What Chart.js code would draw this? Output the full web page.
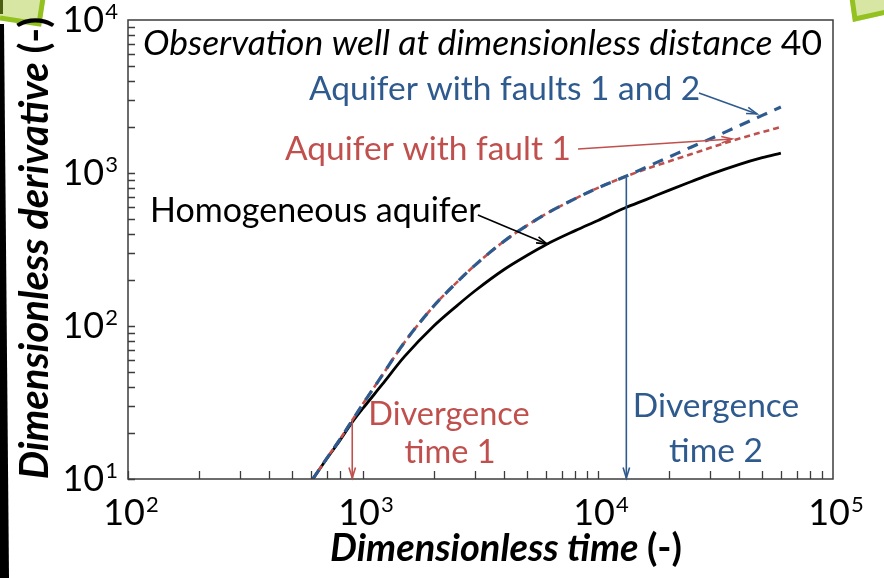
<!DOCTYPE html>
<html>
<head>
<meta charset="utf-8">
<script src="https://cdn.jsdelivr.net/npm/chart.js@4.4.1/dist/chart.umd.min.js"></script>
<style>
    html, body { margin: 0; padding: 0; background: #fff; }
    #wrap { width: 884px; height: 578px; }
</style>
</head>
<body>
<div id="wrap"><canvas id="myChart" width="884" height="578"></canvas></div>
<script>
// dimensionless time (x) shared by the three curves
let times = [612, 700, 800, 900, 1000, 1200, 1500, 2000, 2500, 3000, 4000, 5000, 6000, 8000, 10000, 13000, 16000, 20000, 25000, 30000, 40000, 50000, 60000];
// dimensionless derivative
let homogeneous = [10, 13.5, 18, 23.5, 29, 41, 63, 100, 135, 170, 235, 290, 340, 420, 490, 590, 670, 770, 880, 980, 1140, 1260, 1350];
let fault1 = [10, 13.6, 18.3, 24.2, 31, 47, 78, 135, 192, 250, 360, 455, 540, 680, 800, 945, 1060, 1190, 1330, 1460, 1680, 1850, 2000];
let faults12 = [10, 13.6, 18.3, 24.2, 31, 47, 78, 135, 192, 250, 360, 455, 540, 680, 800, 945, 1090, 1270, 1480, 1670, 2040, 2380, 2700];

let xTicks = [100, 1000, 10000, 100000];
let yTicks = [10, 100, 1000, 10000];

// divergence arrows: [time, derivative where arrow starts]
let divergence1 = [900, 24];
let divergence2 = [13200, 930];

// label arrows in data coords: [t, s] -> [t, s]
let arrowFaults12 = [[26900, 3337], [47500, 2432]];
let arrowFault1 = [[8220, 1436], [37150, 1667]];
let arrowHomog = [[3083, 531], [6067, 344]];

let fontName = 'Lato';
let axisColor = '#3c3c3c';
let blueColor = '#2F5A8E';
let redColor = '#C0504D';
let noteFont = '33.5px ' + fontName;

function toPoints(xs, ys) {
    return xs.map((x, i) => ({ x: x, y: ys[i] }));
}

function powerLabel(c, exp, x, y, align) {
    c.font = '36px ' + fontName;
    let w1 = c.measureText('10').width;
    c.font = '22px ' + fontName;
    let w2 = c.measureText(exp).width;
    let left = align === 'right' ? x - w1 - w2 - 1 : x - (w1 + w2 + 1) / 2;
    c.fillStyle = '#000';
    c.textAlign = 'left';
    c.textBaseline = 'alphabetic';
    c.font = '36px ' + fontName;
    c.fillText('10', left, y);
    c.font = '22px ' + fontName;
    c.fillText(exp, left + w1 + 1, y - 13);
}

// draws text made of several pieces with different fonts
function drawRuns(c, runs, x, y, color, center) {
    let total = 0;
    runs.forEach(r => { c.font = r[1]; total += c.measureText(r[0]).width; });
    let pos = center ? x - total / 2 : x;
    c.fillStyle = color;
    c.textAlign = 'left';
    c.textBaseline = 'alphabetic';
    runs.forEach(r => {
        c.font = r[1];
        c.fillText(r[0], pos, y);
        pos += c.measureText(r[0]).width;
    });
}

function arrow(c, x1, y1, x2, y2, color, width) {
    c.strokeStyle = color;
    c.lineWidth = width;
    c.beginPath();
    c.moveTo(x1, y1);
    c.lineTo(x2, y2);
    c.stroke();
    let a = Math.atan2(y2 - y1, x2 - x1);
    let len = 11, spread = 0.3;
    c.beginPath();
    c.moveTo(x2 - len * Math.cos(a - spread), y2 - len * Math.sin(a - spread));
    c.lineTo(x2, y2);
    c.lineTo(x2 - len * Math.cos(a + spread), y2 - len * Math.sin(a + spread));
    c.stroke();
}

// slide background bits (black bar, green corners)
const slideDecor = {
    id: 'slideDecor',
    beforeDraw(chart) {
        let c = chart.ctx;
        c.save();
        c.fillStyle = '#fff';
        c.fillRect(0, 0, chart.width, chart.height);
        c.fillStyle = '#000';
        c.beginPath();
        c.moveTo(0, 24); c.lineTo(4, 24); c.lineTo(9, 578); c.lineTo(0, 578);
        c.closePath();
        c.fill();
        // top left corner
        c.fillStyle = '#D7E6A3';
        c.beginPath();
        c.moveTo(0, 0); c.lineTo(45, 0); c.lineTo(41, 26); c.lineTo(0, 20);
        c.closePath();
        c.fill();
        c.strokeStyle = '#93C11F';
        c.lineWidth = 5;
        c.beginPath();
        c.moveTo(43, -2); c.lineTo(39, 24); c.lineTo(0, 18);
        c.stroke();
        c.fillStyle = '#4B5E12';
        c.fillRect(0, 0, 3, 14);
        // top right corner
        c.fillStyle = '#D7E6A3';
        c.beginPath();
        c.moveTo(850, 0); c.lineTo(853, 22); c.lineTo(884, 15); c.lineTo(884, 0);
        c.closePath();
        c.fill();
        c.beginPath();
        c.moveTo(852, -2); c.lineTo(855, 19); c.lineTo(886, 12);
        c.stroke();
        c.restore();
    }
};

const axesAndNotes = {
    id: 'axesAndNotes',
    afterDatasetsDraw(chart) {
        let c = chart.ctx;
        let a = chart.chartArea;
        let xs = chart.scales.x;
        let ys = chart.scales.y;
        c.save();
        // frame
        c.strokeStyle = axisColor;
        c.lineWidth = 1.5;
        c.strokeRect(a.left, a.top, a.right - a.left, a.bottom - a.top);
        // inward ticks
        c.lineWidth = 1.3;
        c.beginPath();
        for (let d = 100; d < 100000; d *= 10) {
            for (let k = 1; k <= 9; k++) {
                let px = Math.round(xs.getPixelForValue(k * d)) + 0.5;
                c.moveTo(px, a.bottom);
                c.lineTo(px, a.bottom - 8);
            }
        }
        for (let d = 10; d < 10000; d *= 10) {
            for (let k = 1; k <= 9; k++) {
                let py = Math.round(ys.getPixelForValue(k * d)) + 0.5;
                c.moveTo(a.left, py);
                c.lineTo(a.left + 7, py);
            }
        }
        c.stroke();

        // tick labels
        xTicks.forEach(v => {
            powerLabel(c, String(Math.round(Math.log10(v))), xs.getPixelForValue(v) + 3, a.bottom + 46, 'center');
        });
        yTicks.forEach(v => {
            powerLabel(c, String(Math.round(Math.log10(v))), a.left - 10, ys.getPixelForValue(v) + 12, 'right');
        });

        // axis titles
        drawRuns(c, [['Dimensionless time ', 'italic bold 38px ' + fontName], ['(-)', 'bold 38px ' + fontName]],
            506, 561, '#000', true);
        c.save();
        c.translate(48, 248);
        c.rotate(-Math.PI / 2);
        drawRuns(c, [['Dimensionless derivative ', 'italic bold 40px ' + fontName], ['(-)', 'bold 40px ' + fontName]],
            0, 0, '#000', true);
        c.restore();

        // notes
        drawRuns(c, [['Observation well at dimensionless distance ', 'italic 35.5px ' + fontName], ['40', '35.5px ' + fontName]],
            143, 55, '#000', false);
        drawRuns(c, [['Aquifer with faults 1 and 2', noteFont]], 309, 100, blueColor, false);
        drawRuns(c, [['Aquifer with fault 1', noteFont]], 285, 160, redColor, false);
        drawRuns(c, [['Homogeneous aquifer', '34px ' + fontName]], 150, 222, '#000', false);
        drawRuns(c, [['Divergence', '32.5px ' + fontName]], 449, 425, redColor, true);
        drawRuns(c, [['time 1', '32.5px ' + fontName]], 450, 463, redColor, true);
        drawRuns(c, [['Divergence', '33.5px ' + fontName]], 716, 417, blueColor, true);
        drawRuns(c, [['time 2', '33.5px ' + fontName]], 716, 462, blueColor, true);

        // arrows
        let px = p => [xs.getPixelForValue(p[0]), ys.getPixelForValue(p[1])];
        let f12a = px(arrowFaults12[0]), f12b = px(arrowFaults12[1]);
        arrow(c, f12a[0], f12a[1], f12b[0], f12b[1], blueColor, 1.6);
        let f1a = px(arrowFault1[0]), f1b = px(arrowFault1[1]);
        arrow(c, f1a[0], f1a[1], f1b[0], f1b[1], redColor, 1.6);
        let ha = px(arrowHomog[0]), hb = px(arrowHomog[1]);
        arrow(c, ha[0], ha[1], hb[0], hb[1], '#000', 1.6);
        let d1 = px(divergence1);
        arrow(c, d1[0], d1[1], d1[0], a.bottom - 1, redColor, 1.6);
        let d2 = px(divergence2);
        arrow(c, d2[0], d2[1], d2[0], a.bottom - 1, blueColor, 1.6);
        c.restore();
    }
};

function buildChart() {
    let ctx = document.getElementById('myChart').getContext('2d');
    let myChart = new Chart(ctx, {
        type: 'scatter',
        data: {
            datasets: [{
                label: 'Aquifer with faults 1 and 2',
                data: toPoints(times, faults12),
                showLine: true,
                borderColor: blueColor,
                borderWidth: 3.2,
                borderDash: [11, 8],
                pointRadius: 0,
                cubicInterpolationMode: 'monotone',
                order: 0
            }, {
                label: 'Aquifer with fault 1',
                data: toPoints(times, fault1),
                showLine: true,
                borderColor: redColor,
                borderWidth: 2.6,
                borderDash: [6, 4],
                pointRadius: 0,
                cubicInterpolationMode: 'monotone',
                order: 1
            }, {
                label: 'Homogeneous aquifer',
                data: toPoints(times, homogeneous),
                showLine: true,
                borderColor: '#000',
                borderWidth: 2.8,
                pointRadius: 0,
                cubicInterpolationMode: 'monotone',
                order: 2
            }]
        },
        options: {
            responsive: false,
            animation: false,
            layout: { padding: { left: 0, top: 20, right: 51, bottom: 0 } },
            plugins: {
                legend: { display: false },
                tooltip: { enabled: false }
            },
            scales: {
                x: {
                    type: 'logarithmic', min: 100, max: 100000,
                    grid: { display: false }, border: { display: false }, ticks: { display: false },
                    afterFit: (s) => { s.height = 99; }
                },
                y: {
                    type: 'logarithmic', min: 10, max: 10000,
                    grid: { display: false }, border: { display: false }, ticks: { display: false },
                    afterFit: (s) => { s.width = 128; }
                }
            }
        },
        plugins: [slideDecor, axesAndNotes]
    });
    console.log(myChart.chartArea);
}

Promise.all([
    document.fonts.load('30px Lato'),
    document.fonts.load('italic 30px Lato'),
    document.fonts.load('bold 27px Lato'),
    document.fonts.load('italic bold 27px Lato')
]).then(buildChart, buildChart);
</script>
</body>
</html>
